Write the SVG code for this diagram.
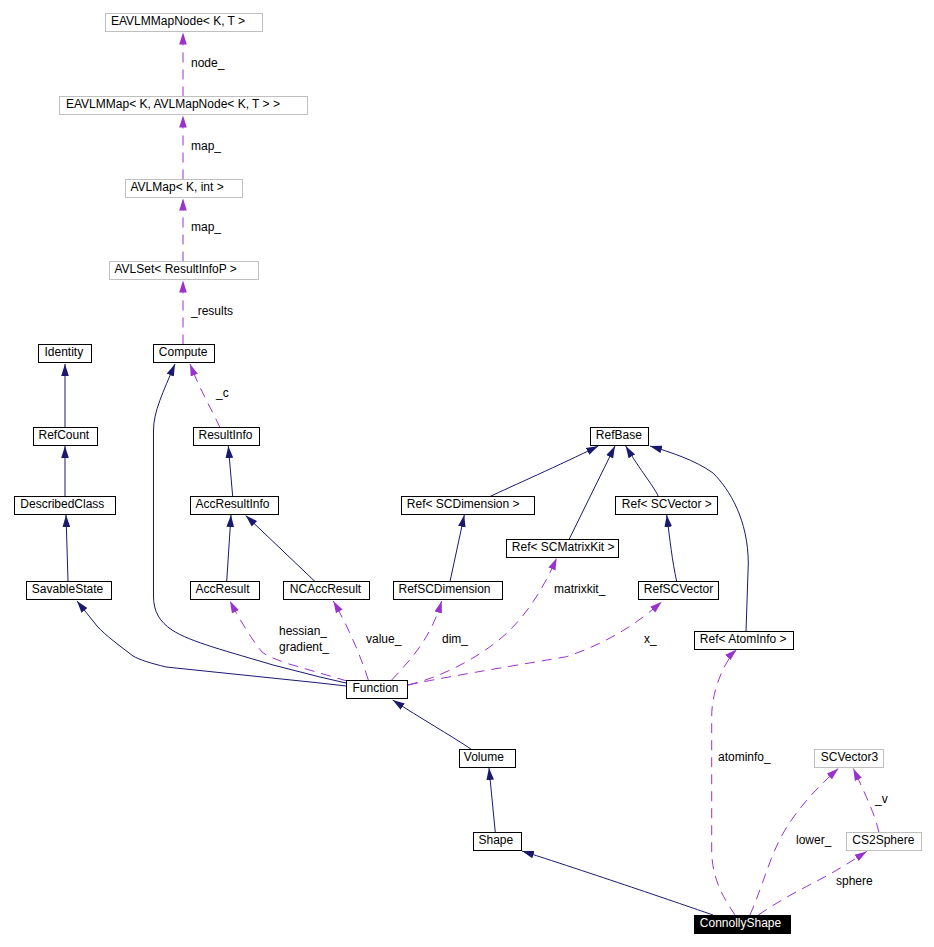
<svg xmlns="http://www.w3.org/2000/svg" width="934" height="947" viewBox="0 0 934 947">
<style>
text{font-family:"Liberation Sans",Arial,sans-serif;font-size:12px;fill:#000}
.n rect{fill:#fff;stroke:#000;stroke-width:1}
.g rect{fill:#fff;stroke:#bfbfbf;stroke-width:1}
.inh{fill:none;stroke:#191970;stroke-width:1;marker-end:url(#ah)}
.use{fill:none;stroke:#9a32cd;stroke-width:1;stroke-dasharray:10,7;marker-end:url(#ap)}
</style>
<defs>
<marker id="ah" markerUnits="userSpaceOnUse" markerWidth="12" markerHeight="8" viewBox="0 0 11 7" refX="11" refY="3.5" orient="auto"><path d="M0,0 L11,3.5 L0,7 z" fill="#191970"/></marker>
<marker id="ap" markerUnits="userSpaceOnUse" markerWidth="12" markerHeight="8" viewBox="0 0 11 7" refX="11" refY="3.5" orient="auto"><path d="M0,0 L11,3.5 L0,7 z" fill="#9a32cd"/></marker>
</defs>
<rect width="934" height="947" fill="#fff"/>
<g id="edges">
<path class="inh" d="M65,427 L65,364"/>
<path class="inh" d="M65,496 L65,446"/>
<path class="inh" d="M68,581 L66,515"/>
<path class="inh" d="M346,686 L320,683 L166,667 C150,663 140,660 133,656 C120,646 105,635 97,626 L77,601"/>
<path class="inh" d="M346,683 L320,677 L273,665 C230,652 190,642 172,630 C160,622 153.5,612 153.5,596 L153.5,430 C153.5,412 163,392 175,364"/>
<path class="inh" d="M232.7,496.5 L228.3,446"/>
<path class="inh" d="M226.7,581.5 L231,515"/>
<path class="inh" d="M315,581.5 L245.7,515.5"/>
<path class="inh" d="M450,581.5 L464.3,515"/>
<path class="inh" d="M490,496.5 C510,487 560,465 598.3,446"/>
<path class="inh" d="M569,539.5 L615,446"/>
<path class="inh" d="M658.3,496.5 C655,488 640,470 625.7,446"/>
<path class="inh" d="M676.7,581.5 C672,560 670,540 666.7,515"/>
<path class="inh" d="M746,631.5 L748.3,563 C748,520 730,490 713,473 C695,460 670,452 650,446"/>
<path class="inh" d="M471.7,749.5 C450,735 420,718 392.7,700"/>
<path class="inh" d="M495.3,832.5 L489,768"/>
<path class="inh" d="M713,915 C690,907 600,876 522,851"/>
<path class="use" d="M183,96.5 L183,32.5"/>
<path class="use" d="M183,179.5 L183,115.5"/>
<path class="use" d="M183,261.5 L183,198.5"/>
<path class="use" d="M183,344.5 L183,280.5"/>
<path class="use" d="M220,427.5 C212,410 200,390 190,364"/>
<path class="use" d="M347,681 L286.7,663.3 C275,659 267,656 262,652 C252,640 238,617 230,601"/>
<path class="use" d="M368.3,680 C362,660 350,630 333.3,601"/>
<path class="use" d="M391.7,680 C410,660 430,640 441.7,601"/>
<path class="use" d="M408,685 C450,675 490,650 510,630 C530,610 545,585 556.7,558"/>
<path class="use" d="M408,685 C440,678 500,668 566.7,656.7 C600,645 630,630 661.7,601.7"/>
<path class="use" d="M735,915 C725,900 711.7,880 711.7,850 L711.7,716 C711.7,690 725,660 736.7,649.5"/>
<path class="use" d="M750,915 C765,880 770,855 785,830 C800,805 820,785 838.3,768.5"/>
<path class="use" d="M758.3,915 C780,900 800,890 815,882 C835,872 850,862 866.7,851.5"/>
<path class="use" d="M879,832.5 C875,815 868,800 853.3,768.5"/>
<text x="191" y="67">node_</text>
<text x="191" y="150">map_</text>
<text x="191" y="231">map_</text>
<text x="191" y="315">_results</text>
<text x="216" y="397">_c</text>
<text x="279" y="635">hessian_</text>
<text x="279" y="651">gradient_</text>
<text x="366" y="643">value_</text>
<text x="442" y="643">dim_</text>
<text x="554" y="593">matrixkit_</text>
<text x="644" y="643">x_</text>
<text x="718" y="761">atominfo_</text>
<text x="796" y="844">lower_</text>
<text x="836" y="885">sphere</text>
<text x="875" y="803">_v</text>
</g>
<g id="EAVLMMapNode" class="g"><rect x="105.5" y="13.5" width="157" height="18"/><text x="111" y="25.2">EAVLMMapNode&lt; K, T &gt;</text></g>
<g id="EAVLMMap" class="g"><rect x="59.5" y="96.5" width="248" height="18"/><text x="66" y="108.2">EAVLMMap&lt; K, AVLMapNode&lt; K, T &gt; &gt;</text></g>
<g id="AVLMap" class="g"><rect x="125.5" y="179.5" width="117" height="18"/><text x="130.5" y="191.2">AVLMap&lt; K, int &gt;</text></g>
<g id="AVLSet" class="g"><rect x="109.5" y="261.5" width="149" height="18"/><text x="114.5" y="273.2">AVLSet&lt; ResultInfoP  &gt;</text></g>
<g id="Compute" class="n"><rect x="153.5" y="344.5" width="61" height="18"/><text x="158.8" y="356.2">Compute</text></g>
<g id="Identity" class="n"><rect x="38.5" y="344.5" width="53" height="18"/><text x="44.5" y="356.2">Identity</text></g>
<g id="RefCount" class="n"><rect x="33.5" y="427.5" width="64" height="18"/><text x="38.5" y="439.2">RefCount</text></g>
<g id="DescribedClass" class="n"><rect x="14.5" y="496.5" width="101" height="18"/><text x="20.3" y="508.2">DescribedClass</text></g>
<g id="SavableState" class="n"><rect x="26.5" y="581.5" width="85" height="18"/><text x="31.8" y="593.2">SavableState</text></g>
<g id="ResultInfo" class="n"><rect x="193.5" y="427.5" width="66" height="18"/><text x="198.5" y="439.2">ResultInfo</text></g>
<g id="AccResultInfo" class="n"><rect x="190.5" y="496.5" width="88" height="18"/><text x="195.5" y="508.2">AccResultInfo</text></g>
<g id="AccResult" class="n"><rect x="190.5" y="581.5" width="69" height="18"/><text x="195.5" y="593.2">AccResult</text></g>
<g id="NCAccResult" class="n"><rect x="283.5" y="581.5" width="86" height="18"/><text x="289.8" y="593.2">NCAccResult</text></g>
<g id="RefSCDimension" class="n"><rect x="393.5" y="581.5" width="109" height="18"/><text x="398.5" y="593.2">RefSCDimension</text></g>
<g id="RefSCDimensionT" class="n"><rect x="401.5" y="496.5" width="133" height="18"/><text x="406.8" y="508.2">Ref&lt; SCDimension &gt;</text></g>
<g id="RefBase" class="n"><rect x="590.5" y="427.5" width="58" height="18"/><text x="595.8" y="439.2">RefBase</text></g>
<g id="RefSCMatrixKitT" class="n"><rect x="506.5" y="539.5" width="112" height="18"/><text x="511.8" y="551.2">Ref&lt; SCMatrixKit &gt;</text></g>
<g id="RefSCVectorT" class="n"><rect x="615.5" y="496.5" width="102" height="18"/><text x="621.8" y="508.2">Ref&lt; SCVector &gt;</text></g>
<g id="RefSCVector" class="n"><rect x="638.5" y="581.5" width="80" height="18"/><text x="643.8" y="593.2">RefSCVector</text></g>
<g id="RefAtomInfoT" class="n"><rect x="694.5" y="631.5" width="99" height="18"/><text x="699.8" y="643.2">Ref&lt; AtomInfo &gt;</text></g>
<g id="SCVector3" class="g"><rect x="814.5" y="749.5" width="69" height="18"/><text x="820.8" y="761.2">SCVector3</text></g>
<g id="CS2Sphere" class="g"><rect x="846.5" y="832.5" width="75" height="18"/><text x="852.3" y="844.2">CS2Sphere</text></g>
<g id="Function" class="n"><rect x="346.5" y="680.5" width="61" height="18"/><text x="352.5" y="692.2">Function</text></g>
<g id="Volume" class="n"><rect x="459.5" y="749.5" width="56" height="18"/><text x="463.8" y="761.2">Volume</text></g>
<g id="Shape" class="n"><rect x="473.5" y="832.5" width="48" height="18"/><text x="478.5" y="844.2">Shape</text></g>
<g id="ConnollyShape"><rect x="694" y="915" width="97" height="19" fill="#000"/><text x="699.8" y="927.2" style="fill:#fff">ConnollyShape</text></g>
</svg>
